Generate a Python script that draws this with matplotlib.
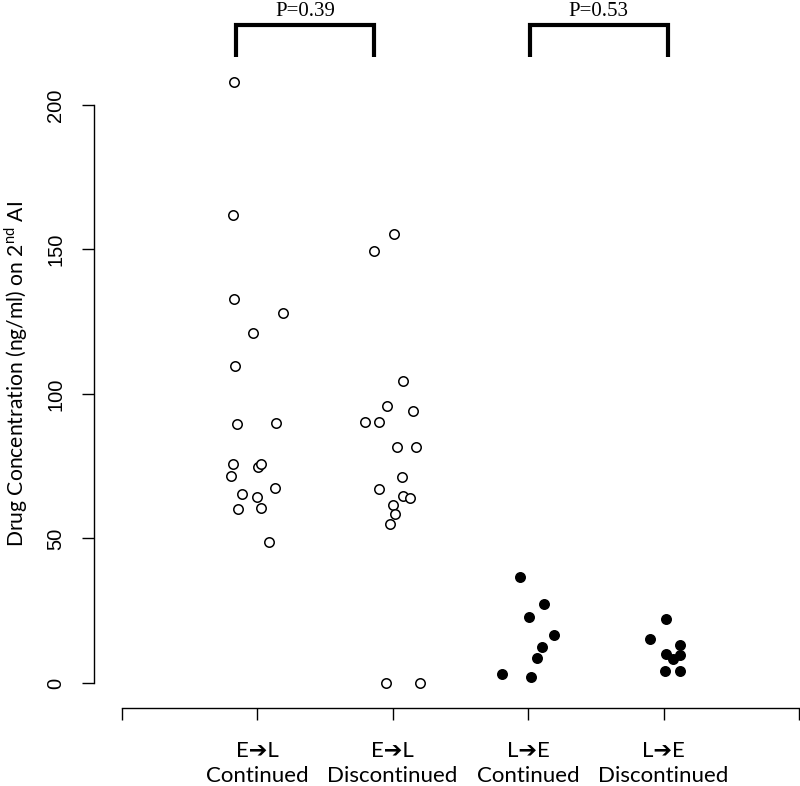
import matplotlib
matplotlib.use("Agg")
import matplotlib.pyplot as plt
import numpy as np

plt.rcParams["mathtext.fontset"] = "custom"
plt.rcParams["mathtext.rm"] = "Lato"

# group labels and positions on the x axis
groups = ["E\u2794L\nContinued", "E\u2794L\nDiscontinued", "L\u2794E\nContinued", "L\u2794E\nDiscontinued"]
group_pos = [1, 2, 3, 4]

# drug concentration values (ng/ml)
el_cont = [208, 162, 133, 128, 121.2, 109.8, 89.5, 89.8, 75.6, 74.7, 75.7, 71.6, 67.6, 65.3, 64.4, 60.3, 60.7, 48.8]
el_disc = [155.5, 149.4, 104.4, 95.7, 94.1, 90.3, 90.3, 81.5, 81.5, 71.2, 67.1, 64.8, 63.9, 61.6, 58.4, 55.1, 0, 0]
le_cont = [36.8, 27.3, 23.0, 16.7, 12.5, 8.5, 3.0, 2.2]
le_disc = [22.1, 15.3, 13.2, 9.9, 8.3, 9.8, 4.0, 4.0]

# horizontal jitter of each point (as drawn in the figure)
el_cont_jit = [-0.17, -0.18, -0.17, 0.19, -0.03, -0.16, -0.15, 0.14, -0.18, 0.01, 0.03, -0.19, 0.13, -0.11, 0.00, -0.14, 0.03, 0.09]
el_disc_jit = [0.01, -0.14, 0.08, -0.04, 0.15, -0.20, -0.10, 0.03, 0.17, 0.07, -0.10, 0.08, 0.13, 0.00, 0.02, -0.02, -0.05, 0.20]
le_cont_jit = [-0.06, 0.12, 0.01, 0.19, 0.10, 0.07, -0.19, 0.02]
le_disc_jit = [0.02, -0.10, 0.12, 0.02, 0.07, 0.12, 0.01, 0.12]

p_labels = ["P=0.39", "P=0.53"]
p_pairs = [(0.845, 1.863), (3.015, 4.03)]

label_font = ["Lato", "DejaVu Sans"]

fig = plt.figure(figsize=(8, 7.86), dpi=100)
ax = fig.add_axes([94 / 800, 1 - 708 / 786, 705 / 800, 708 / 786])
ax.set_xlim(-0.203, 5)
ax.set_ylim(-8.65, 236.3)

series = [
    (el_cont, el_cont_jit, "white"),
    (el_disc, el_disc_jit, "white"),
    (le_cont, le_cont_jit, "black"),
    (le_disc, le_disc_jit, "black"),
]
for pos, (vals, jit, face) in zip(group_pos, series):
    x = pos + np.array(jit)
    ax.plot(x, vals, linestyle="none", marker="o", markersize=6.8,
            markerfacecolor=face, markeredgecolor="black", markeredgewidth=1.1)

for side in ["top", "right"]:
    ax.spines[side].set_visible(False)
ax.spines["left"].set_bounds(0, 200)
ax.spines["bottom"].set_bounds(0, 5)
ax.spines["left"].set_linewidth(1.0)
ax.spines["bottom"].set_linewidth(1.0)

ax.set_yticks([0, 50, 100, 150, 200])
ax.set_yticklabels(["0", "50", "100", "150", "200"], rotation=90, va="center",
                   family="Liberation Sans", fontsize=14.5)
ax.tick_params(axis="y", length=8.6, width=1.0, pad=12)

ax.set_xticks([0, 1, 2, 3, 4, 5])
ax.set_xticklabels([""] + groups + [""], family=label_font, fontsize=16, linespacing=1.3)
ax.tick_params(axis="x", length=8.6, width=1.0, pad=15)

fig.text(16 / 800, 1 - 374 / 786, "Drug Concentration (ng/ml) on 2$^{\\mathrm{nd}}$ AI",
         rotation=90, ha="center", va="center", family=label_font, fontsize=15.2)

for (x0, x1), txt in zip(p_pairs, p_labels):
    ax.plot([x0, x0, x1, x1], [216.6, 227.7, 227.7, 216.6], color="black",
            linewidth=3, solid_capstyle="butt", solid_joinstyle="miter", clip_on=False)
    ax.text((x0 + x1) / 2, 230.8, txt, ha="center", va="baseline",
            family="Liberation Serif", fontsize=15, clip_on=False)

fig.savefig("out.png", dpi=100)
